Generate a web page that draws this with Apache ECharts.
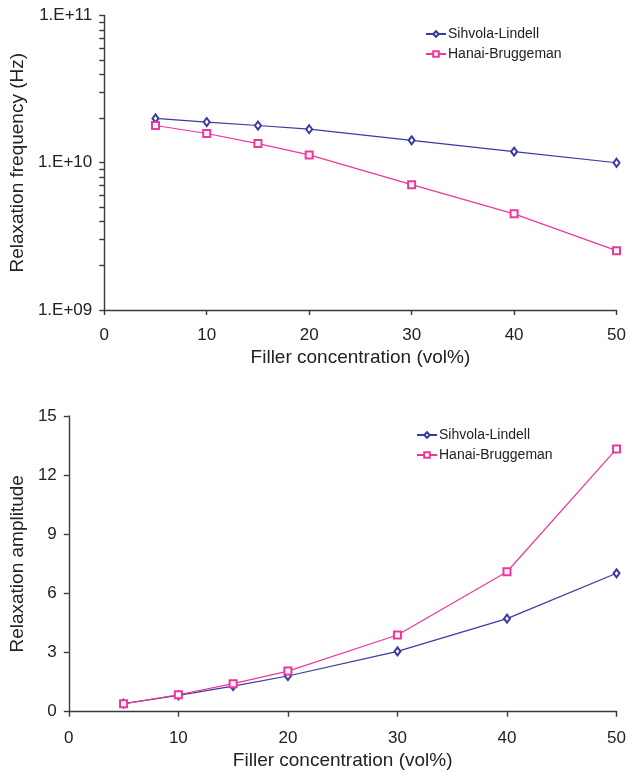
<!DOCTYPE html>
<html><head><meta charset="utf-8">
<script src="https://cdn.jsdelivr.net/npm/echarts@6/dist/echarts.min.js"></script>
<style>html,body{margin:0;padding:0;background:#fff}#c{width:629px;height:776px}</style>
</head><body><div id="c"></div>
<script>
var concentration = [5, 10, 15, 20, 30, 40, 50];
var freqSihvola = [2.0e10, 1.89e10, 1.79e10, 1.69e10, 1.42e10, 1.19e10, 1.0e10];
var freqHanai = [1.79e10, 1.58e10, 1.35e10, 1.13e10, 7.1e9, 4.5e9, 2.53e9];
var ampSihvola = [0.41, 0.83, 1.30, 1.81, 3.06, 4.72, 7.02];
var ampHanai = [0.40, 0.86, 1.42, 2.06, 3.89, 7.10, 13.33];
var seriesNames = ['Sihvola-Lindell', 'Hanai-Bruggeman'];
var xTicks = [0, 10, 20, 30, 40, 50];
var logMajor = [1e9, 1e10, 1e11];
var ampTicks = [0, 3, 6, 9, 12, 15];

var BLUE = '#3a3a9e', PINK = '#f0369c';
var FONT = 'Liberation Sans, Arial, sans-serif';
var logTicks = [];
for (var d = 0; d < logMajor.length - 1; d++) {
  for (var k = 1; k < 10; k++) logTicks.push(k * logMajor[d]);
}
logTicks.push(logMajor[logMajor.length - 1]);

function pairs(xs, ys) { return xs.map(function (x, i) { return [x, ys[i]]; }); }
function fmtLog(v) { var e = Math.round(Math.log10(v)); return '1.E+' + (e < 10 ? '0' + e : e); }

var axisLine = { lineStyle: { color: '#3a3a3a', width: 1.4 } };
var axisTick = { show: true, inside: false, length: 5, lineStyle: { color: '#3a3a3a', width: 1.4 } };

function xAxis(grid, margin, gap) {
  return {
    type: 'value', gridIndex: grid, min: 0, max: 50, interval: 10,
    name: 'Filler concentration (vol%)', nameLocation: 'middle', nameGap: gap,
    nameTextStyle: { fontFamily: FONT, fontSize: 19, color: '#222' },
    axisLine: axisLine, axisTick: axisTick, splitLine: { show: false },
    axisLabel: { fontFamily: FONT, fontSize: 17, color: '#222', margin: margin }
  };
}
function line(name, data, xi, color, symbol, size) {
  return {
    name: name, type: 'line', xAxisIndex: xi, yAxisIndex: xi, data: data,
    symbol: symbol, symbolSize: size, showSymbol: true,
    lineStyle: { color: color, width: 1.2 },
    itemStyle: { color: color, borderColor: color, borderWidth: 1.2 },
    animation: false
  };
}
function legend(left, top) {
  return { data: seriesNames.slice(), orient: 'vertical', left: left, top: top,
    itemWidth: 20, itemHeight: 7, itemGap: 6,
    textStyle: { fontFamily: FONT, fontSize: 14, color: '#222', padding: [0, 0, 0, -3] } };
}

var chart = echarts.init(document.getElementById('c'), null, { renderer: 'canvas' });
chart.setOption({
  backgroundColor: '#fff',
  animation: false,
  grid: [
    { left: 101, right: 9, top: 15.5, height: 294.5 },
    { left: 65, right: 9, top: 416, height: 295.7 }
  ],
  legend: [legend(420, 22), legend(411, 423)],
  xAxis: [xAxis(0, 17, 38), xAxis(1, 18, 40)],
  yAxis: [
    { type: 'log', gridIndex: 0, min: 1e9, max: 1e11, logBase: 10,
      name: 'Relaxation frequency (Hz)', nameLocation: 'middle', nameGap: 73,
      nameTextStyle: { fontFamily: FONT, fontSize: 19, color: '#222' },
      axisLine: axisLine, splitLine: { show: false }, minorTick: { show: false },
      axisTick: { show: true, length: 5, lineStyle: { color: '#3a3a3a', width: 1.4 }, customValues: logTicks },
      axisLabel: { fontFamily: FONT, fontSize: 17, color: '#222', margin: 12, customValues: logMajor, formatter: fmtLog } },
    { type: 'value', gridIndex: 1, min: 0, max: 15, interval: 3,
      name: 'Relaxation amplitude', nameLocation: 'middle', nameGap: 38,
      nameTextStyle: { fontFamily: FONT, fontSize: 19, color: '#222' },
      axisLine: axisLine, axisTick: axisTick, splitLine: { show: false },
      axisLabel: { fontFamily: FONT, fontSize: 17, color: '#222', margin: 12 } }
  ],
  series: [
    line(seriesNames[0], pairs(concentration, freqSihvola), 0, BLUE, 'emptyDiamond', [6, 8]),
    line(seriesNames[1], pairs(concentration, freqHanai), 0, PINK, 'emptyRect', 7),
    line(seriesNames[0], pairs(concentration, ampSihvola), 1, BLUE, 'emptyDiamond', [6, 8]),
    line(seriesNames[1], pairs(concentration, ampHanai), 1, PINK, 'emptyRect', 7)
  ]
});
</script></body></html>
